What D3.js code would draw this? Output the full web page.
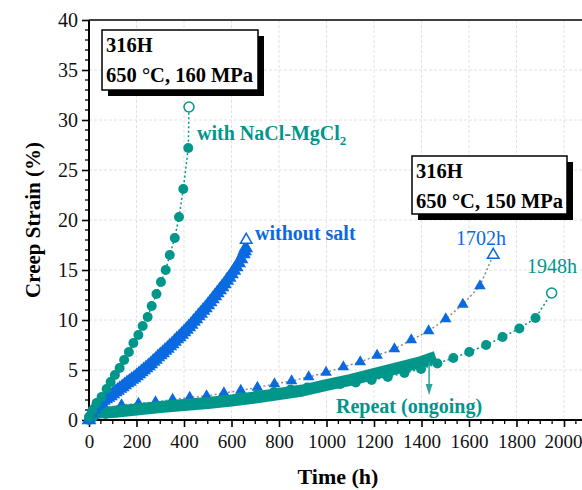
<!DOCTYPE html>
<html><head><meta charset="utf-8">
<script src="https://cdn.jsdelivr.net/npm/d3@7"></script>
<style>body{margin:0;background:#fff}svg{display:block}</style>
</head><body>
<svg id="chart" width="582" height="490"></svg>
<script>
// ---- data: creep strain (%) vs time (h), 316H at 650 °C ----
// 160 MPa, with NaCl-MgCl2 salt (last point = rupture)
const salt160Time   = [0, 15, 32, 53, 74, 91, 109, 129, 148, 168, 187, 208, 226, 247, 264, 284, 303, 323, 340, 361, 379, 397, 418];
const salt160Strain = [0.3, 1.0, 1.7, 2.3, 3.1, 3.8, 4.5, 5.2, 6.0, 6.8, 7.7, 8.5, 9.4, 10.3, 11.4, 12.6, 13.8, 15.0, 16.5, 18.2, 20.3, 23.1, 27.2];
const salt160Rupture = [421, 31.3];

// 160 MPa, without salt (densely logged)
const bare160Time = [0,10,20,30,40,50,60,70,80,90,100,110,120,130,140,150,160,170,180,190,200,210,220,230,240,250,260,270,280,290,300,310,320,330,340,350,360,370,380,390,400,410,420,430,440,450,460,470,480,490,500,510,520,530,540,550,560,570,580,590,600,610,620,630,640,650,655,660];
const bare160Strain = [0,0.7,1.1,1.4,1.6,1.8,1.95,2.1,2.25,2.4,2.6,2.8,2.95,3.15,3.3,3.5,3.7,3.85,4.05,4.2,4.4,4.6,4.8,5.0,5.2,5.4,5.6,5.85,6.05,6.3,6.5,6.7,6.95,7.15,7.4,7.6,7.85,8.1,8.3,8.55,8.8,9.05,9.3,9.55,9.85,10.1,10.4,10.65,10.95,11.2,11.5,11.8,12.1,12.4,12.7,13.0,13.3,13.6,13.95,14.25,14.6,14.95,15.3,15.7,16.1,16.6,16.9,17.2];
const bare160Rupture = [662, 18.0];

// 150 MPa, without salt
const bare150Time   = [0, 67, 137, 208, 280, 352, 424, 495, 568, 639, 709, 781, 853, 925, 998, 1071, 1142, 1213, 1286, 1357, 1430, 1502, 1574, 1646];
const bare150Strain = [0, 1.2, 1.5, 1.65, 1.8, 2.05, 2.25, 2.4, 2.7, 2.95, 3.25, 3.6, 3.9, 4.3, 4.75, 5.3, 5.8, 6.45, 7.1, 8.0, 8.9, 10.1, 11.55, 13.4];
const bare150Rupture = [1702, 16.5];

// 150 MPa, with NaCl-MgCl2 salt
const salt150Time   = [0, 71, 142, 212, 283, 353, 424, 495, 568, 639, 709, 779, 849, 919, 989, 1058, 1123, 1190, 1258, 1328, 1398, 1467, 1534, 1601, 1672, 1741, 1812, 1880];
const salt150Strain = [0, 0.6, 0.85, 1.05, 1.2, 1.35, 1.55, 1.77, 2.0, 2.27, 2.55, 2.8, 3.05, 3.25, 3.45, 3.6, 3.75, 4.0, 4.3, 4.7, 5.1, 5.65, 6.2, 6.8, 7.5, 8.3, 9.15, 10.2];
const salt150Rupture = [1948, 12.7];

// 150 MPa, with salt, repeat test (ongoing)
const repeatTime   = [0, 20, 40, 100, 200, 300, 400, 500, 600, 700, 800, 900, 1000, 1100, 1200, 1300, 1400, 1460];
const repeatStrain = [0, 0.55, 0.75, 0.8, 1.05, 1.3, 1.5, 1.7, 1.95, 2.25, 2.6, 2.95, 3.5, 4.0, 4.6, 5.2, 5.8, 6.3];

const xTicks = [0, 200, 400, 600, 800, 1000, 1200, 1400, 1600, 1800, 2000];
const yTicks = [0, 5, 10, 15, 20, 25, 30, 35, 40];

// ---- drawing ----
const TEAL = "#00968a", TEAL_LIGHT = "#2ea59c", BLUE = "#0b6ae0", DOT_GRAY = "#8a8a8a";
const SERIF = "'Liberation Serif','Times New Roman',serif";

const svg = d3.select("#chart");
const x = d3.scaleLinear().domain([0, 2000]).range([89, 564]);
const y = d3.scaleLinear().domain([0, 40]).range([420, 20]);
const rightEdge = 582;

const zip = (t, e) => t.map((v, i) => [v, e[i]]);

// grid
const grid = svg.append("g").attr("stroke", "#e2e2e2").attr("stroke-width", 1).attr("stroke-dasharray", "3,2");
xTicks.filter(d => d > 0).forEach(d => grid.append("line").attr("x1", x(d)).attr("x2", x(d)).attr("y1", y(40)).attr("y2", y(0)));
yTicks.filter(d => d > 0 && d < 40).forEach(d => grid.append("line").attr("x1", x(0)).attr("x2", rightEdge).attr("y1", y(d)).attr("y2", y(d)));

// axes
const xAxis = d3.axisBottom(x).tickValues(xTicks).tickSize(7).tickPadding(8).tickFormat(d3.format("d"));
const gx = svg.append("g").attr("transform", `translate(0,${y(0)})`).call(xAxis);
const yAxis = d3.axisLeft(y).tickValues(yTicks).tickSize(7).tickPadding(4);
const gy = svg.append("g").attr("transform", `translate(${x(0)},0)`).call(yAxis);
[gx, gy].forEach(g => {
  g.select(".domain").remove();
  g.selectAll(".tick line").attr("stroke", "#000").attr("stroke-width", 1.6);
  g.selectAll(".tick text").attr("font-family", SERIF).attr("fill", "#111");
});
gx.selectAll(".tick text").attr("font-size", 19);
gx.selectAll(".tick").filter(d => d === 2000).select("text").attr("text-anchor", "end").attr("dx", 18);
gy.selectAll(".tick text").attr("font-size", 20);
// minor ticks
const minorX = d3.range(50, 2051, 50).filter(d => d % 200 !== 0);
svg.append("g").selectAll("line").data(minorX).join("line")
  .attr("x1", d => x(d)).attr("x2", d => x(d)).attr("y1", y(0)).attr("y2", y(0) + 4)
  .attr("stroke", "#000").attr("stroke-width", 1.3);
const minorY = d3.range(1, 40).filter(d => d % 5 !== 0);
svg.append("g").selectAll("line").data(minorY).join("line")
  .attr("x1", x(0) - 4).attr("x2", x(0)).attr("y1", d => y(d)).attr("y2", d => y(d))
  .attr("stroke", "#000").attr("stroke-width", 1.3);
// frame lines
svg.append("line").attr("x1", x(0)).attr("x2", rightEdge).attr("y1", y(0)).attr("y2", y(0)).attr("stroke", "#000").attr("stroke-width", 2);
svg.append("line").attr("x1", x(0)).attr("x2", rightEdge).attr("y1", y(40)).attr("y2", y(40)).attr("stroke", "#000").attr("stroke-width", 1.6);
svg.append("line").attr("x1", x(0)).attr("x2", x(0)).attr("y1", y(0) + 1).attr("y2", y(40)).attr("stroke", "#000").attr("stroke-width", 2);

// axis titles
svg.append("text").attr("transform", `translate(40,${(y(0) + y(40)) / 2}) rotate(-90)`)
  .attr("text-anchor", "middle").attr("font-family", SERIF).attr("font-weight", "bold").attr("font-size", 21)
  .text("Creep Strain (%)");
svg.append("text").attr("x", 338).attr("y", 484).attr("text-anchor", "middle")
  .attr("font-family", SERIF).attr("font-weight", "bold").attr("font-size", 22).text("Time (h)");

const line = d3.line().x(d => x(d[0])).y(d => y(d[1]));
const circle = d3.symbol().type(d3.symbolCircle).size(78)();
const tri = d3.symbol().type(d3.symbolTriangle).size(58)();
const triDense = d3.symbol().type(d3.symbolTriangle).size(95)();

function dotted(pts, color) {
  svg.append("path").attr("d", line(pts)).attr("fill", "none")
    .attr("stroke", color).attr("stroke-width", 1.5).attr("stroke-dasharray", "2,2.5");
}
function markers(pts, shape, color) {
  svg.append("g").selectAll("path").data(pts).join("path")
    .attr("transform", d => `translate(${x(d[0])},${y(d[1])})`)
    .attr("d", shape).attr("fill", color);
}
function openMarker(p, shape, color) {
  svg.append("path").attr("transform", `translate(${x(p[0])},${y(p[1])})`)
    .attr("d", shape).attr("fill", "#fff").attr("stroke", color).attr("stroke-width", 1.5);
}

// 150 MPa, without salt
const b150 = zip(bare150Time, bare150Strain);
dotted([...b150, bare150Rupture], DOT_GRAY);
markers(b150, tri, BLUE);
openMarker(bare150Rupture, tri, BLUE);

// 150 MPa, with salt
const s150 = zip(salt150Time, salt150Strain);
dotted([...s150, salt150Rupture], TEAL);
markers(s150, circle, TEAL);
openMarker(salt150Rupture, circle, TEAL);

// repeat test band
svg.append("path").attr("d", line(zip(repeatTime, repeatStrain))).attr("fill", "none")
  .attr("stroke", TEAL).attr("stroke-width", 12).attr("stroke-linecap", "butt").attr("stroke-linejoin", "round");

// 160 MPa, without salt
const b160 = zip(bare160Time, bare160Strain);
dotted([...b160, bare160Rupture], DOT_GRAY);
markers(b160, triDense, BLUE);
openMarker(bare160Rupture, tri, BLUE);

// 160 MPa, with salt
const s160 = zip(salt160Time, salt160Strain);
dotted([...s160, salt160Rupture], TEAL);
markers(s160, circle, TEAL);
openMarker(salt160Rupture, circle, TEAL);

// condition boxes
function condBox(x0, y0, w, h, lines) {
  svg.append("rect").attr("x", x0 + 6).attr("y", y0 + 6).attr("width", w).attr("height", h).attr("fill", "#000");
  svg.append("rect").attr("x", x0).attr("y", y0).attr("width", w).attr("height", h)
    .attr("fill", "#fff").attr("stroke", "#000").attr("stroke-width", 1.5);
  lines.forEach((t, i) => svg.append("text").attr("x", x0 + 4).attr("y", y0 + 22 + i * 29.5)
    .attr("font-family", SERIF).attr("font-weight", "bold").attr("font-size", 20.5).text(t));
}
condBox(102, 30, 156, 60, ["316H", "650 °C, 160 MPa"]);
condBox(412, 156, 155, 58, ["316H", "650 °C, 150 MPa"]);

// series labels
const lbl = (tx, ty, txt, color, bold) => svg.append("text").attr("x", tx).attr("y", ty)
  .attr("font-family", SERIF).attr("font-weight", bold ? "bold" : "normal").attr("font-size", 20)
  .attr("fill", color).text(txt);
const nacl = lbl(197, 140, "with NaCl-MgCl", TEAL, true);
nacl.append("tspan").attr("font-size", 13).attr("dy", 5).text("2");
lbl(255, 240, "without salt", BLUE, true);
lbl(456, 245, "1702h", BLUE, false);
lbl(527, 273, "1948h", TEAL, false);
lbl(336, 413, "Repeat (ongoing)", TEAL, true);

// arrow pointing to the repeat test
const ax = x(1432);
svg.append("line").attr("x1", ax).attr("x2", ax).attr("y1", y(5.8)).attr("y2", y(3.4))
  .attr("stroke", TEAL_LIGHT).attr("stroke-width", 1.5);
svg.append("path").attr("d", `M${ax - 3.5},${y(3.6)} L${ax + 3.5},${y(3.6)} L${ax},${y(2.5)} Z`).attr("fill", TEAL_LIGHT);
</script>
</body></html>
